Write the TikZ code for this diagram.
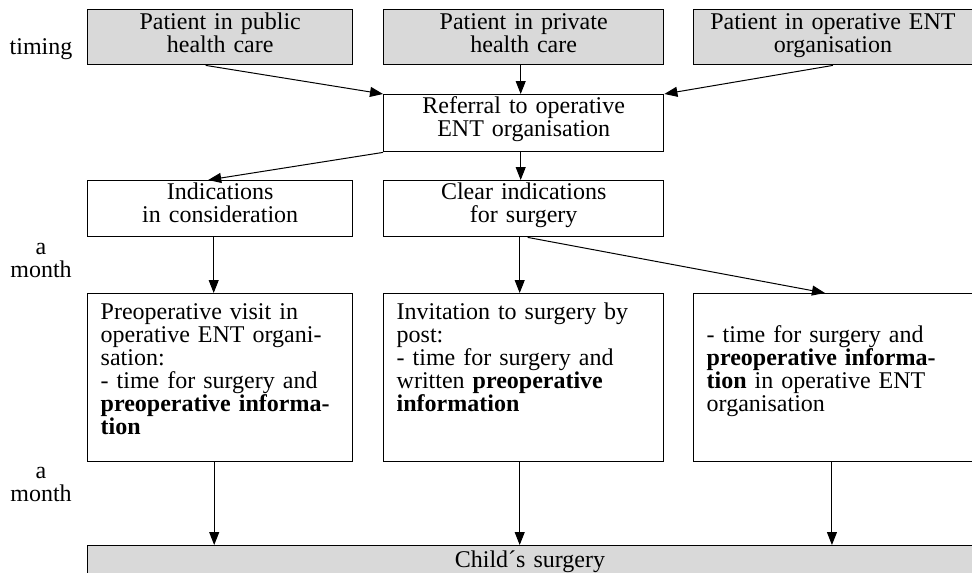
\documentclass[tikz,border=0pt]{standalone}
\usepackage{fontspec}
\setmainfont{Liberation Serif}
\usetikzlibrary{arrows.meta,calc}
\definecolor{boxgray}{RGB}{217,217,217}
\begin{document}
\begin{tikzpicture}[x=1pt,y=-1pt,
  base/.style={font=\fontsize{24pt}{23pt}\selectfont},
  box/.style={base, draw, line width=1.4pt, inner sep=0pt, anchor=north west},
  gbox/.style={box, fill=boxgray},
  ctext/.style={align=center},
  ltext/.style={align=left},
  lbl/.style={base, align=center, text width=80pt, inner sep=0pt, anchor=base},
  arr/.style={-{Triangle[length=13pt,width=10pt]}, line width=1pt}
]
\useasboundingbox (0,0) rectangle (972,573);
\clip (0,0) rectangle (972,573);
\fill[white] (0,0) rectangle (972,573);

% top row
\node[gbox, ctext, text width=265pt, text height=20pt, text depth=35pt] (T1) at (87,9) {Patient in public\\health care};
\node[gbox, ctext, text width=280pt, text height=20pt, text depth=35pt] (T2) at (383,9) {Patient in private\\health care};
\node[gbox, ctext, text width=278.5pt, text height=20pt, text depth=35pt] (T3) at (693,9) {Patient in operative ENT\\organisation};

% referral
\node[box, ctext, text width=280pt, text height=19pt, text depth=38pt] (R) at (383,94) {Referral to operative\\ENT organisation};

% indications
\node[box, ctext, text width=265pt, text height=19pt, text depth=37pt] (I1) at (87,180) {Indications\\in consideration};
\node[box, ctext, text width=280pt, text height=19pt, text depth=37pt] (I2) at (383,180) {Clear indications\\for surgery};

% detail boxes
\node[box, ltext, text width=265pt, text height=26pt, text depth=142pt] (B1) at (87,293) {\leftskip=13pt\relax Preoperative visit in\\operative ENT organi-\\sation:\\- time for surgery and\\\textbf{preoperative informa-}\\\textbf{tion}\par};
\node[box, ltext, text width=280pt, text height=26pt, text depth=142pt] (B2) at (383,293) {\leftskip=13pt\relax Invitation to surgery by\\post:\\- time for surgery and\\written \textbf{preoperative}\\\textbf{information}\par};
\node[box, ltext, text width=278.5pt, text height=26pt, text depth=142pt] (B3) at (693,293) {\leftskip=13pt\relax \mbox{}\\- time for surgery and\\\textbf{preoperative informa-}\\\textbf{tion} in operative ENT\\organisation\par};

% final
\node[gbox, ctext, text width=884.5pt, text height=22pt, text depth=33pt] (C) at (87,545) {Child´s surgery};

% side labels
\node[base, anchor=base, inner sep=0pt] (tm) at (41,54.6) {timing};
\node[lbl] (m1) at (41,254) {a\\month};
\node[lbl] (m2) at (41,478) {a\\month};

% connectors
\draw[arr] ([xshift=-14.5pt]T1.south) -- (R.north west);
\draw[arr] ([xshift=-3pt]T2.south) -- ([xshift=-3pt]R.north);
\draw[arr] (T3.south) -- (R.north east);
\draw[arr] (R.south west) -- ([xshift=-12pt]I1.north);
\draw[arr] ([xshift=-3pt]R.south) -- ([xshift=-3pt]I2.north);
\draw[arr] ([xshift=-6.5pt]I1.south) -- ([xshift=-6.5pt]B1.north);
\draw[arr] ([xshift=-4pt]I2.south) -- ([xshift=-4pt]B2.north);
\draw[arr] ([xshift=4pt]I2.south) -- ([xshift=-8pt]B3.north);
\draw[arr] ([xshift=-6pt]B1.south) -- ([xshift=-6pt]B1.south |- C.north);
\draw[arr] ([xshift=-4pt]B2.south) -- ([xshift=-4pt]B2.south |- C.north);
\draw[arr] ([xshift=-1pt]B3.south) -- ([xshift=-1pt]B3.south |- C.north);
\end{tikzpicture}
\end{document}
